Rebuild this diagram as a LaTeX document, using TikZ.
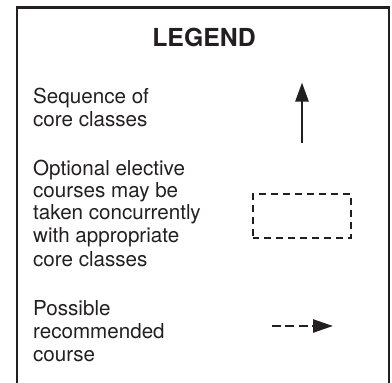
\documentclass[tikz,border=0pt]{standalone}
\usepackage{fontspec}
\setmainfont{TeX Gyre Heros}
\usetikzlibrary{arrows.meta}
\definecolor{ink}{HTML}{231F20}
\begin{document}
\begin{tikzpicture}[x=1pt,y=-1pt,
  txt/.style={anchor=base west,inner sep=0pt,font=\fontsize{20.6}{24}\selectfont,text=ink},
  ttl/.style={anchor=base,inner sep=0pt,font=\fontsize{24.8}{29}\selectfont\bfseries,text=ink},
  frame/.style={draw=ink,line width=2.4pt},
  seqarrow/.style={draw=ink,line width=2.4pt,-{Triangle[width=13pt,length=19pt]}},
  optbox/.style={draw=ink,line width=2.4pt,dash pattern=on 7pt off 5pt,dash phase=1pt,minimum width=98pt,minimum height=44pt,inner sep=0pt},
  recarrow/.style={draw=ink,line width=2.6pt,dash pattern=on 8.7pt off 4.7pt,-{Triangle[width=13pt,length=20pt]}}
]
\useasboundingbox (0,0) rectangle (392,383);
\draw[frame] (17,392) -- (17,7.5) -- (389,7.5) -- (389,392);
\node[ttl] (title) at (204,46.5) {LEGEND};
\node[txt] (s1) at (33,103) {Sequence of};
\node[txt] (s2) at (33,126.5) {core classes};
\node[txt] (o1) at (33,175.5) {Optional elective};
\node[txt] (o2) at (33,197.5) {courses may be};
\node[txt] (o3) at (33,219.5) {taken concurrently};
\node[txt] (o4) at (33,242) {with appropriate};
\node[txt] (o5) at (33,266) {core classes};
\node[txt] (p1) at (33,315) {Possible};
\node[txt] (p2) at (33,338) {recommended};
\node[txt] (p3) at (33,361.5) {course};
\coordinate (seqbot) at (302,143);
\coordinate (seqtop) at (302,82.5);
\draw[seqarrow] (seqbot) -- (seqtop);
\node[optbox] (opt) at (302,216) {};
\coordinate (recstart) at (272,326);
\coordinate (recend) at (333,326);
\draw[recarrow] (recstart) -- (recend);
\end{tikzpicture}
\end{document}
